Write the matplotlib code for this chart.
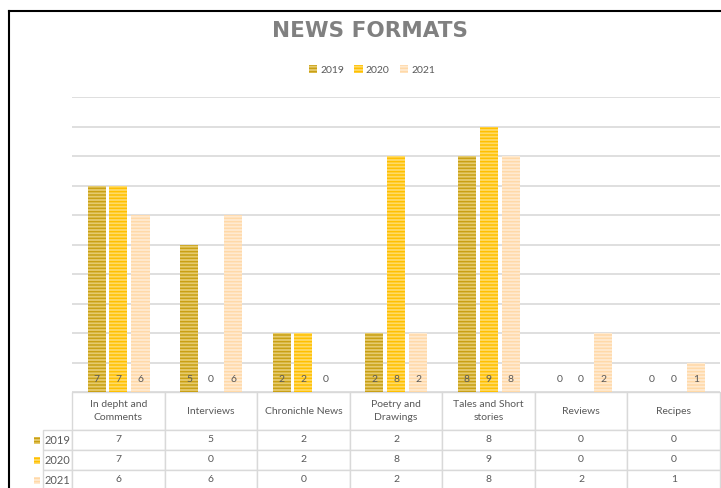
import numpy as np
import matplotlib.pyplot as plt
from matplotlib.patches import Patch
from matplotlib.lines import Line2D

categories = ['In depht and\nComments', 'Interviews', 'Chronichle News',
              'Poetry and\nDrawings', 'Tales and Short\nstories', 'Reviews',
              'Recipes']
years = ['2019', '2020', '2021']
values_2019 = [7, 5, 2, 2, 8, 0, 0]
values_2020 = [7, 0, 2, 8, 9, 0, 0]
values_2021 = [6, 6, 0, 2, 8, 2, 1]

plt.rcParams['font.family'] = ['Lato', 'DejaVu Sans']
plt.rcParams['hatch.linewidth'] = 1.1

face_colors = ['#E6CB6E', '#FFDA66', '#FFEAD0']
hatch_colors = ['#C9A014', '#FFC000', '#FFD9A8']
text_gray = '#595959'
grid_gray = '#D9D9D9'

W, H = 721, 488
AX_W, AX_H = 648, 295
fig = plt.figure(figsize=(W / 100, H / 100), dpi=100)
ax = fig.add_axes([72 / W, (H - 392) / H, AX_W / W, AX_H / H])

series = [values_2019, values_2020, values_2021]
x = np.arange(len(categories))
offsets = [-0.235, 0.0, 0.24]
bar_w = 0.195

for vals, off, fc, hc, yr in zip(series, offsets, face_colors,
                                 hatch_colors, years):
    ax.bar(x + off, vals, width=bar_w, color=fc, edgecolor=hc,
           hatch='-----', linewidth=0, zorder=3, label=yr)
    for xi, v in zip(x + off, vals):
        ax.text(xi, 0.42, str(v), ha='center', va='center',
                fontsize=7.5, color=text_gray, zorder=4)

ax.set_xlim(-0.5, len(categories) - 0.5)
ax.set_ylim(0, 10)
ax.set_yticks(np.arange(0, 11, 1))
ax.yaxis.grid(True, color=grid_gray, linewidth=1.2, zorder=0)
ax.set_xticks([])
ax.tick_params(axis='y', length=0, labelleft=False)
for s in ax.spines.values():
    s.set_visible(False)

# data table under the chart (row labels sit left of the bbox)
cell_text = [[str(v) for v in vals] for vals in series]
tbl = ax.table(cellText=cell_text, rowLabels=years, colLabels=categories,
               cellLoc='center', rowLoc='right',
               bbox=[0, -98 / AX_H, 1, 98 / AX_H])
tbl.auto_set_font_size(False)
for (r, c), cell in tbl.get_celld().items():
    cell.set_edgecolor(grid_gray)
    cell.set_linewidth(1.0)
    cell.get_text().set_color(text_gray)
    cell.get_text().set_fontsize(7.5)
    cell.set_height((38 if r == 0 else 20) / AX_H)
    cell.set_width(45 / AX_W if c == -1 else 1 / len(categories))
    if r == 0:
        cell.get_text().set_linespacing(1.5)
    if c == -1:
        cell.get_text().set_fontsize(8)
        cell.PAD = 0.05

# legend keys inside the row labels
for i, (fc, hc) in enumerate(zip(face_colors, hatch_colors)):
    yc = (392 - (440 + 20 * i)) / AX_H
    ax.add_patch(plt.Rectangle((-38 / AX_W, yc - 3.5 / AX_H), 6 / AX_W,
                               7 / AX_H, transform=ax.transAxes,
                               facecolor=fc, edgecolor=hc, hatch='-----',
                               linewidth=0, clip_on=False, zorder=5))

fig.text(370 / W, 1 - 31 / H, 'NEWS FORMATS', ha='center', va='center',
         fontsize=15.5, fontweight='bold', color='#808080',
         family=['DejaVu Sans'])

handles = [Patch(facecolor=fc, edgecolor=hc, hatch='-----', linewidth=0,
                 label=yr)
           for fc, hc, yr in zip(face_colors, hatch_colors, years)]
fig.legend(handles=handles, loc='center', bbox_to_anchor=(372 / W, 1 - 70 / H),
           ncol=3, frameon=False, fontsize=7.5, labelcolor=text_gray,
           handlelength=0.8, handleheight=0.8, handletextpad=0.3,
           columnspacing=1.0)

# border of the chart area
fig.add_artist(Line2D([9 / W, 9 / W], [0, 1 - 11 / H], color='black',
                      linewidth=1.5, transform=fig.transFigure))
fig.add_artist(Line2D([9 / W, 1], [1 - 11 / H, 1 - 11 / H], color='black',
                      linewidth=1.5, transform=fig.transFigure))

fig.savefig('out.png', dpi=100)
plt.close(fig)
